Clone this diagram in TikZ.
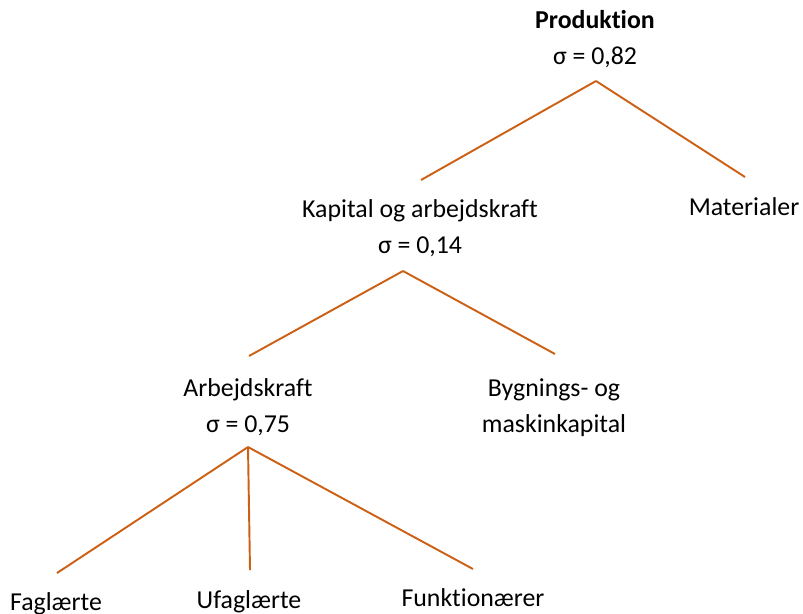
\documentclass[tikz,border=0pt]{standalone}
\usepackage{fontspec}
\setmainfont{Carlito}[Ligatures=NoCommon]
\definecolor{branch}{RGB}{204,96,20}
\begin{document}
\begin{tikzpicture}[x=0.02cm,y=-0.02cm,
    every node/.style={align=center,inner sep=0pt,anchor=base,font=\fontsize{14.7}{20}\selectfont},
    branch/.style={draw=branch,line width=1.1pt}]
  \useasboundingbox (0,0) rectangle (803,613);

  % labels (placed at the baseline of their last line)
  \node (prod) at (595,64) {\textbf{Produktion}\\ σ = 0,82};
  \node (kap) at (420,253) {Kapital og arbejdskraft\\ σ = 0,14};
  \node (mat) at (744,215) {Materialer};
  \node (arb) at (248,432) {Arbejdskraft\\ σ = 0,75};
  \node (byg) at (554,432) {Bygnings- og\\ maskinkapital};
  \node (fag) at (56,610) {Faglærte};
  \node (ufag) at (249,608) {Ufaglærte};
  \node (funk) at (473,606) {Funktionærer};

  % line ends
  \coordinate (prod-b) at (596,81);
  \coordinate (kap-t) at (421,180);
  \coordinate (mat-t) at (745,177);
  \coordinate (kap-b) at (403,271);
  \coordinate (arb-t) at (249,356);
  \coordinate (byg-t) at (555,354);
  \coordinate (arb-b) at (248,447);
  \coordinate (fag-t) at (57,573);
  \coordinate (ufag-t) at (250,570);
  \coordinate (funk-t) at (473,569);

  \path[branch] (prod-b) edge (kap-t)
                (prod-b) edge (mat-t)
                (kap-b) edge (arb-t)
                (kap-b) edge (byg-t)
                (arb-b) edge (fag-t)
                (arb-b) edge (ufag-t)
                (arb-b) edge (funk-t);
\end{tikzpicture}
\end{document}
